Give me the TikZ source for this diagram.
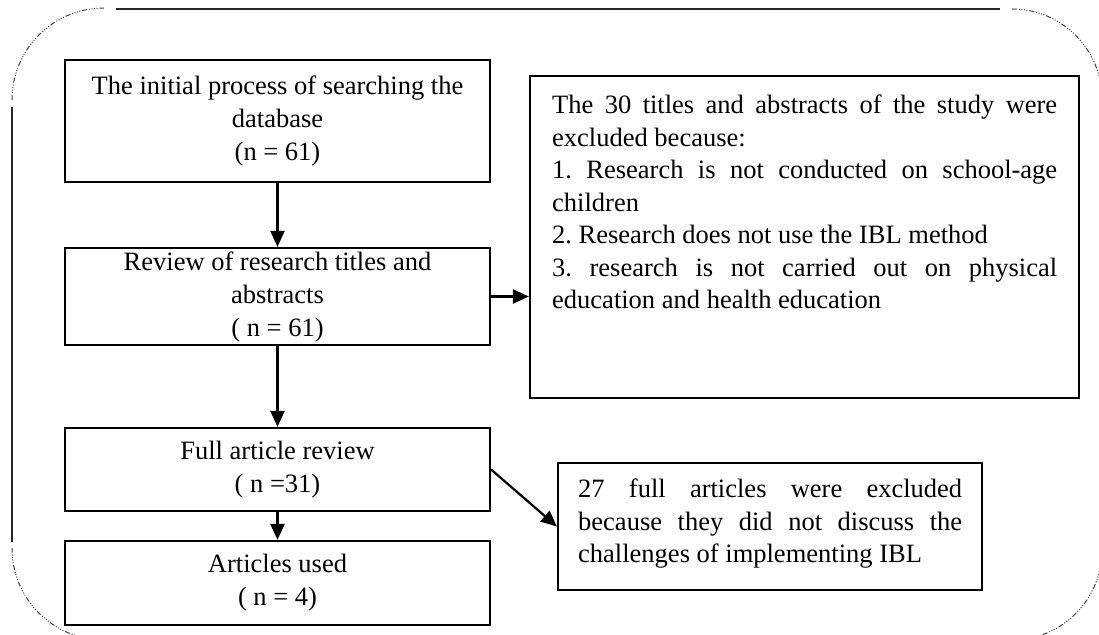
\documentclass[tikz,border=0pt]{standalone}
\usepackage{fontspec}
\setmainfont{Liberation Serif}
\usetikzlibrary{arrows.meta}
\frenchspacing
\begin{document}
\begin{tikzpicture}[x=1pt,y=-1pt,
  box/.style={draw, line width=2.2pt, inner sep=0pt, align=center,
    font=\fontsize{26.5}{33}\selectfont},
  para/.style={inner sep=0pt, align=left, font=\fontsize{26.5}{32.5}\selectfont},
  arr/.style={line width=2.2pt, -{Triangle[length=16pt,width=14pt]}},
  frame/.style={line width=1.1pt, black!85},
  framedash/.style={line width=1pt, black!75,
    dash pattern=on 5pt off 2pt on 1pt off 1.5pt on 1pt off 1.5pt on 1pt off 1.5pt on 1pt off 2pt}]
\useasboundingbox (0,0) rectangle (1099,634);
\clip (0,0) rectangle (1099,634);

% outer frame
\draw[frame] (116,9) -- (1000,9);
\draw[frame] (12,107) -- (12,542);
\draw[framedash] (12,100) arc[start angle=180, end angle=270, radius=92];
\draw[framedash] (1012,9) arc[start angle=270, end angle=360, radius=90];
\draw[framedash] (1102,550) arc[start angle=0, end angle=90, radius=90];
\draw[framedash] (104,640) arc[start angle=90, end angle=180, radius=92];

% boxes
\node[box, minimum width=425pt, minimum height=122pt] (b1) at (277.5,121)
  {The initial process of searching the\\database\\(n = 61)};
\node[box, minimum width=425pt, minimum height=97pt] (b2) at (277.5,296.5)
  {Review of research titles and\\abstracts\\( n = 61)};
\node[box, minimum width=425pt, minimum height=83pt] (b4) at (277.5,469.5)
  {Full article review\\( n =31)};
\node[box, minimum width=425pt, minimum height=84pt] (b5) at (277.5,583)
  {Articles used\\( n = 4)};
\node[box, minimum width=549pt, minimum height=322pt] (b3) at (804.5,237) {};
\node[box, minimum width=424pt, minimum height=127pt] (b6) at (770,526.5) {};

\node[para, anchor=north west] (t3) at (552,95)
  {\makebox[505pt][s]{The 30 titles and abstracts of the study were}\\
   excluded because:\\
   \makebox[505pt][s]{1. Research is not conducted on school-age}\\
   children\\
   2. Research does not use the IBL method\\
   \makebox[505pt][s]{3. research is not carried out on physical}\\
   education and health education};
\node[para, anchor=north west] (t6) at (578,479)
  {\makebox[384pt][s]{27 full articles were excluded}\\
   \makebox[384pt][s]{because they did not discuss the}\\
   challenges of implementing IBL};

% connectors
\draw[arr] (b1.south) -- (b2.north);
\draw[arr] (b2.south) -- (b4.north);
\draw[arr] (b4.south) -- (b5.north);
\draw[arr] (b2.east) -- (b3.west |- b2.east);
\draw[arr] (b4.east) -- (b6.west);
\end{tikzpicture}
\end{document}
